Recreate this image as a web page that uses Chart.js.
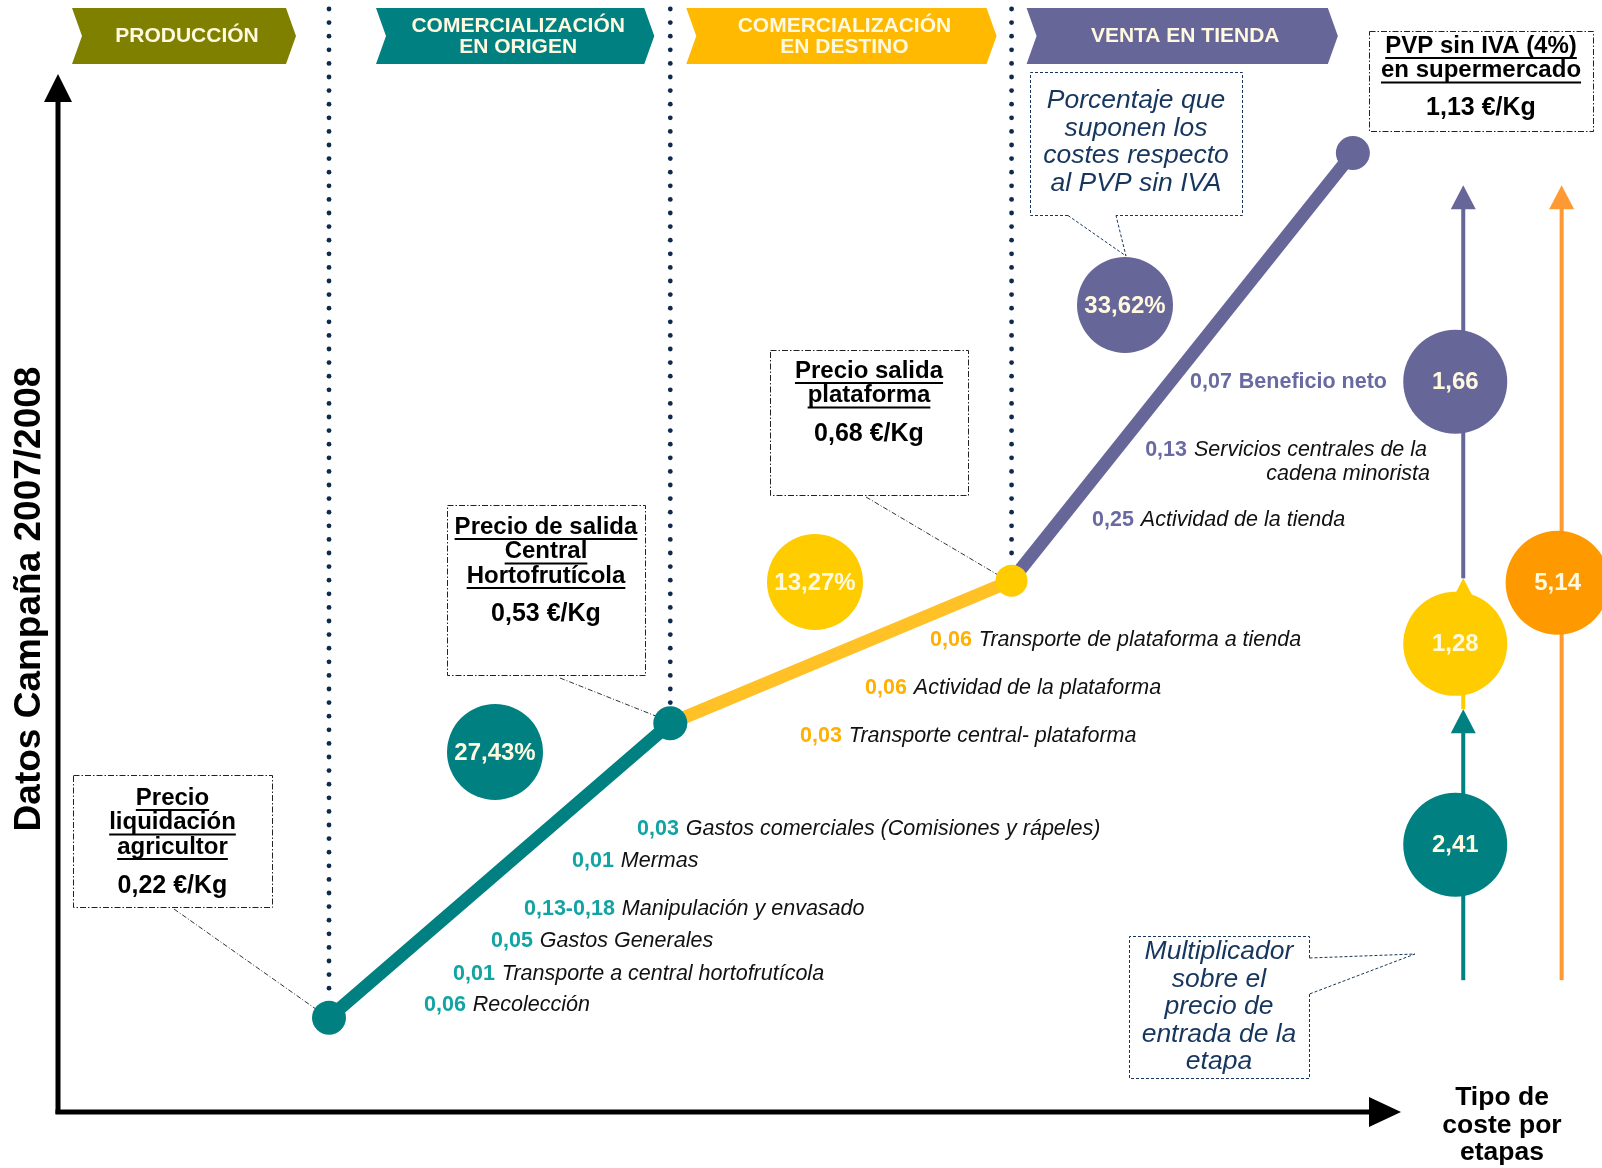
<!DOCTYPE html>
<html lang="es">
<head>
<meta charset="utf-8">
<title>Formación del precio — Campaña 2007/2008</title>
<script src="https://cdn.jsdelivr.net/npm/chart.js@4.4.1/dist/chart.umd.min.js"></script>
<style>
  html, body { margin: 0; padding: 0; background: #fff; }
</style>
</head>
<body>
<canvas id="chart" width="1602" height="1168"></canvas>
<script>
// Etapas de la cadena y precio al final de cada etapa (€/Kg).
const STAGES = ['PRODUCCIÓN', 'COMERCIALIZACIÓN\nEN ORIGEN', 'COMERCIALIZACIÓN\nEN DESTINO', 'VENTA EN TIENDA'];
const STAGE_END = [1, 2, 3, 4];
const PRICES = [0.22, 0.53, 0.68, 1.13];
const PRICE_TITLES = [
  ['Precio', 'liquidación', 'agricultor'],
  ['Precio de salida', 'Central', 'Hortofrutícola'],
  ['Precio salida', 'plataforma'],
  ['PVP sin IVA (4%)', 'en supermercado'],
];

// Peso de cada etapa sobre el PVP sin IVA (%) y multiplicador de la etapa.
const SHARE_PCT = [27.43, 13.27, 33.62];
const MULTIPLIERS = [2.41, 1.28, 1.66];
const TOTAL_MULTIPLIER = 5.14;

// Costes por etapa (€/Kg).
const COST_ORIGEN = [0.06, 0.01, 0.05, [0.13, 0.18], 0.01, 0.03];
const COST_ORIGEN_LABELS = ['Recolección', 'Transporte a central hortofrutícola', 'Gastos Generales',
  'Manipulación y envasado', 'Mermas', 'Gastos comerciales (Comisiones y rápeles)'];
const COST_DESTINO = [0.03, 0.06, 0.06];
const COST_DESTINO_LABELS = ['Transporte central- plataforma', 'Actividad de la plataforma',
  'Transporte de plataforma a tienda'];
const COST_TIENDA = [0.25, 0.13, 0.07];
const COST_TIENDA_LABELS = ['Actividad de la tienda', 'Servicios centrales de la\ncadena minorista', 'Beneficio neto'];

const FONT = '"Liberation Sans", Arial, Helvetica, sans-serif';
const TEAL = '#008080';
const OLIVE = '#808000';
const AMBER = '#FFB900';
const YELLOW = '#FFCC00';
const YELLOW_LINE = '#FFC125';
const PURPLE = '#666699';
const ORANGE = '#FF9900';
const ORANGE_LINE = '#FF9933';
const NAVY = '#0E2A4C';
const NAVY_TEXT = '#17365D';
const CREAM = '#FFF9E0';
const STAGE_COLORS = [OLIVE, TEAL, AMBER, PURPLE];
const VALUE_COLORS = { origen: '#12A3A3', destino: '#FFB000', tienda: '#6A6AA2' };
const COST_FONT = 21.5;

// Columna de multiplicadores a la derecha (en unidades del eje x).
const COL_X = 4.3;
const TOTAL_X = 4.6;

const AXIS_X = 58;
const AXIS_Y = 1112;

function num(v) {
  if (Array.isArray(v)) return num(v[0]) + '-' + num(v[1]);
  return v.toFixed(2).replace('.', ',');
}
const mid = (a, b) => (a + b) / 2;

function chevron(ctx, l, r, t, b, color) {
  const d = 10, m = (t + b) / 2;
  ctx.beginPath();
  ctx.moveTo(l, t); ctx.lineTo(r - d, t); ctx.lineTo(r, m);
  ctx.lineTo(r - d, b); ctx.lineTo(l, b); ctx.lineTo(l + d, m);
  ctx.closePath();
  ctx.fillStyle = color;
  ctx.fill();
}

function arrowUp(ctx, x, tip, color) {
  ctx.beginPath();
  ctx.moveTo(x, tip); ctx.lineTo(x + 12.5, tip + 24); ctx.lineTo(x - 12.5, tip + 24);
  ctx.closePath();
  ctx.fillStyle = color;
  ctx.fill();
}

function dotLine(ctx, x, y0, y1) {
  ctx.fillStyle = NAVY;
  for (let y = y0; y <= y1; y += 13.6) {
    ctx.beginPath(); ctx.arc(x, y, 2.4, 0, Math.PI * 2); ctx.fill();
  }
}

function priceBox(ctx, box, lines, value) {
  ctx.save();
  ctx.strokeStyle = '#222';
  ctx.lineWidth = 1;
  ctx.setLineDash([6, 2, 1.5, 2]);
  ctx.strokeRect(box.l + 0.5, box.t + 0.5, box.r - box.l, box.b - box.t);
  ctx.restore();
  const cx = (box.l + box.r) / 2;
  ctx.fillStyle = '#000';
  ctx.textAlign = 'center';
  ctx.textBaseline = 'middle';
  ctx.font = `bold 24px ${FONT}`;
  lines.forEach((s, i) => {
    const y = box.y0 + i * 24.5;
    ctx.fillText(s, cx, y);
    const w = ctx.measureText(s).width;
    ctx.fillRect(cx - w / 2, y + 11, w, 2);
  });
  ctx.font = `bold 25px ${FONT}`;
  ctx.fillText(value, cx, box.vy);
}

function leader(ctx, x0, y0, x1, y1) {
  ctx.save();
  ctx.strokeStyle = '#333';
  ctx.lineWidth = 1;
  ctx.setLineDash([5, 2, 1, 2]);
  ctx.beginPath(); ctx.moveTo(x0, y0); ctx.lineTo(x1, y1); ctx.stroke();
  ctx.restore();
}

function bubble(ctx, x, y, r, color, text) {
  ctx.beginPath(); ctx.arc(x, y, r, 0, Math.PI * 2);
  ctx.fillStyle = color; ctx.fill();
  ctx.fillStyle = CREAM;
  ctx.font = `bold 24px ${FONT}`;
  ctx.textAlign = 'center';
  ctx.textBaseline = 'middle';
  ctx.fillText(text, x, y + 1);
}

function costRow(ctx, x, y, value, label, color, boldLabel) {
  ctx.textAlign = 'left';
  ctx.textBaseline = 'middle';
  ctx.font = `bold ${COST_FONT}px ${FONT}`;
  ctx.fillStyle = color;
  ctx.fillText(value, x, y);
  const w = ctx.measureText(value).width;
  ctx.font = boldLabel ? `bold ${COST_FONT}px ${FONT}` : `italic ${COST_FONT}px ${FONT}`;
  ctx.fillStyle = boldLabel ? color : '#111';
  ctx.fillText(label, x + w + 7, y);
}

function calloutText(ctx, lines, cx, y0, step) {
  ctx.fillStyle = NAVY_TEXT;
  ctx.font = `italic 26.5px ${FONT}`;
  ctx.textAlign = 'center';
  ctx.textBaseline = 'middle';
  lines.forEach((s, i) => ctx.fillText(s, cx, y0 + i * step));
}

const infographic = {
  id: 'infographic',
  beforeDatasetsDraw(chart) {
    const ctx = chart.ctx;
    const xs = chart.scales.x, ys = chart.scales.y, yc = chart.scales.yc;
    const px = (i) => xs.getPixelForValue(STAGE_END[i]);
    const py = (i) => ys.getPixelForValue(PRICES[i]);

    ctx.save();
    ctx.fillStyle = '#fff';
    ctx.fillRect(0, 0, chart.width, chart.height);

    // Ejes con flecha
    ctx.fillStyle = '#000';
    ctx.fillRect(AXIS_X - 2.5, 96, 5, AXIS_Y - 96 + 2);
    ctx.fillRect(AXIS_X - 2.5, AXIS_Y - 2.5, 1372 - AXIS_X, 5);
    ctx.beginPath(); ctx.moveTo(AXIS_X, 74); ctx.lineTo(AXIS_X + 14, 102); ctx.lineTo(AXIS_X - 14, 102); ctx.closePath(); ctx.fill();
    ctx.beginPath(); ctx.moveTo(1401, AXIS_Y); ctx.lineTo(1369, AXIS_Y - 15); ctx.lineTo(1369, AXIS_Y + 15); ctx.closePath(); ctx.fill();

    ctx.save();
    ctx.translate(30, 599);
    ctx.rotate(-Math.PI / 2);
    ctx.font = `bold 37px ${FONT}`;
    ctx.textAlign = 'center';
    ctx.textBaseline = 'middle';
    ctx.fillText('Datos Campaña 2007/2008', 0, 0);
    ctx.restore();

    ctx.font = `bold 26.5px ${FONT}`;
    ctx.textAlign = 'center';
    ctx.textBaseline = 'middle';
    ['Tipo de', 'coste por', 'etapas'].forEach((s, i) => ctx.fillText(s, 1502, 1098 + i * 27.5));

    // Separadores de etapa
    for (let i = 0; i < 3; i++) dotLine(ctx, px(i), 9, py(i) - 20);

    // Cabeceras de etapa
    const edges = [AXIS_X, px(0), px(1), px(2), px(3)];
    const margins = [[14, 33], [47, 16], [16, 15], [15, 15]];
    STAGES.forEach((name, i) => {
      const l = edges[i] + margins[i][0], r = edges[i + 1] - margins[i][1];
      chevron(ctx, l, r, 8, 64, STAGE_COLORS[i]);
      ctx.fillStyle = CREAM;
      ctx.font = `bold 21px ${FONT}`;
      ctx.textAlign = 'center';
      ctx.textBaseline = 'middle';
      const lines = name.split('\n');
      const cx = (l + r) / 2 + 3;
      if (lines.length === 1) ctx.fillText(lines[0], cx, 36);
      else lines.forEach((s, k) => ctx.fillText(s, cx, 26 + k * 21));
    });

    // Cajas de precio
    const euro = (v) => num(v) + ' €/Kg';
    priceBox(ctx, { l: 73, t: 775, r: 272, b: 907, y0: 798, vy: 886 }, PRICE_TITLES[0], euro(PRICES[0]));
    leader(ctx, 174, 909, px(0) - 12, py(0) - 8);
    priceBox(ctx, { l: 447, t: 505, r: 645, b: 675, y0: 527, vy: 614 }, PRICE_TITLES[1], euro(PRICES[1]));
    leader(ctx, 560, 678, px(1) - 14, py(1) - 7);
    priceBox(ctx, { l: 770, t: 350, r: 968, b: 495, y0: 371, vy: 434 }, PRICE_TITLES[2], euro(PRICES[2]));
    leader(ctx, 866, 497, px(2) - 14, py(2) - 6);
    priceBox(ctx, { l: 1369, t: 31, r: 1593, b: 131, y0: 46, vy: 108 }, PRICE_TITLES[3], euro(PRICES[3]));

    // Cuadros explicativos (texto azul en cursiva)
    ctx.save();
    ctx.strokeStyle = NAVY_TEXT;
    ctx.lineWidth = 1;
    ctx.setLineDash([3, 2]);
    ctx.beginPath();
    ctx.moveTo(1068, 215.5); ctx.lineTo(1030.5, 215.5); ctx.lineTo(1030.5, 72.5);
    ctx.lineTo(1242.5, 72.5); ctx.lineTo(1242.5, 215.5); ctx.lineTo(1116, 215.5);
    ctx.moveTo(1068, 215.5); ctx.lineTo(1126, 256); ctx.lineTo(1116, 215.5);
    ctx.moveTo(1309.5, 958); ctx.lineTo(1309.5, 936.5); ctx.lineTo(1129.5, 936.5);
    ctx.lineTo(1129.5, 1078.5); ctx.lineTo(1309.5, 1078.5); ctx.lineTo(1309.5, 994);
    ctx.moveTo(1309.5, 958); ctx.lineTo(1415, 954); ctx.lineTo(1309.5, 994);
    ctx.stroke();
    ctx.restore();
    calloutText(ctx, ['Porcentaje que', 'suponen los', 'costes respecto', 'al PVP sin IVA'], 1136, 101, 27.5);
    calloutText(ctx, ['Multiplicador', 'sobre el', 'precio de', 'entrada de la', 'etapa'], 1219, 952, 27.5);

    // Peso de cada etapa sobre el PVP
    const pct = (v) => num(v) + '%';
    bubble(ctx, 495, 752, 48, TEAL, pct(SHARE_PCT[0]));
    bubble(ctx, 815, 582, 48, YELLOW, pct(SHARE_PCT[1]));
    bubble(ctx, 1125, 305, 48, PURPLE, pct(SHARE_PCT[2]));

    // Columna de multiplicadores: un tramo por etapa y el total, con flecha
    const cxm = xs.getPixelForValue(COL_X) + 8;
    const cxt = xs.getPixelForValue(TOTAL_X) + 4;
    const segColors = [TEAL, YELLOW, PURPLE];
    for (let i = 0; i < 3; i++) {
      const yb = yc.getPixelForValue(PRICES[i]);
      const yt = yc.getPixelForValue(PRICES[i + 1]);
      ctx.fillStyle = segColors[i];
      ctx.fillRect(cxm - 2, yt + 20, 4, yb - yt - 20);
      arrowUp(ctx, cxm, yt, segColors[i]);
    }
    ctx.fillStyle = ORANGE_LINE;
    const ytTot = yc.getPixelForValue(PRICES[3]);
    ctx.fillRect(cxt - 2, ytTot + 20, 4, yc.getPixelForValue(PRICES[0]) - ytTot - 20);
    arrowUp(ctx, cxt, ytTot, ORANGE_LINE);
    ctx.restore();
  },
  afterDatasetsDraw(chart) {
    const ctx = chart.ctx;
    ctx.save();

    // Cifras dentro de los círculos de multiplicador
    ctx.fillStyle = CREAM;
    ctx.font = `bold 24px ${FONT}`;
    ctx.textAlign = 'center';
    ctx.textBaseline = 'middle';
    const meta = chart.getDatasetMeta(4);
    const labels = MULTIPLIERS.concat([TOTAL_MULTIPLIER]);
    meta.data.forEach((pt, i) => ctx.fillText(num(labels[i]), pt.x, pt.y + 1));

    // Costes por etapa
    const posOrigen = [[424, 1005], [453, 974], [491, 941], [524, 909], [572, 861], [637, 829]];
    COST_ORIGEN.forEach((v, i) =>
      costRow(ctx, posOrigen[i][0], posOrigen[i][1], num(v), COST_ORIGEN_LABELS[i], VALUE_COLORS.origen));
    const posDestino = [[800, 736], [865, 688], [930, 640]];
    COST_DESTINO.forEach((v, i) =>
      costRow(ctx, posDestino[i][0], posDestino[i][1], num(v), COST_DESTINO_LABELS[i], VALUE_COLORS.destino));

    costRow(ctx, 1092, 520, num(COST_TIENDA[0]), COST_TIENDA_LABELS[0], VALUE_COLORS.tienda);
    // Servicios centrales: alineado a la derecha, dos líneas
    const [l1, l2] = COST_TIENDA_LABELS[1].split('\n');
    const right = 1430;
    ctx.font = `italic ${COST_FONT}px ${FONT}`;
    const wl1 = ctx.measureText(l1).width;
    ctx.font = `bold ${COST_FONT}px ${FONT}`;
    const wv = ctx.measureText(num(COST_TIENDA[1])).width;
    costRow(ctx, right - wl1 - wv - 10, 450, num(COST_TIENDA[1]), l1, VALUE_COLORS.tienda);
    ctx.font = `italic ${COST_FONT}px ${FONT}`;
    ctx.fillStyle = '#111';
    ctx.textAlign = 'right';
    ctx.fillText(l2, right, 474);
    costRow(ctx, 1190, 382, num(COST_TIENDA[2]), COST_TIENDA_LABELS[2], VALUE_COLORS.tienda, true);

    ctx.restore();
  },
};

const pricePoints = PRICES.map((p, i) => ({ x: STAGE_END[i], y: p }));
const segment = (i) => [pricePoints[i], pricePoints[i + 1]];

new Chart(document.getElementById('chart'), {
  type: 'scatter',
  data: {
    datasets: [
      { data: segment(0), showLine: true, borderColor: TEAL, borderWidth: 13, pointRadius: 0, order: 2 },
      { data: segment(1), showLine: true, borderColor: YELLOW_LINE, borderWidth: 13, pointRadius: 0, order: 2 },
      { data: segment(2), showLine: true, borderColor: PURPLE, borderWidth: 13, pointRadius: 0, order: 2 },
      {
        data: pricePoints,
        pointRadius: [17, 17, 16, 17],
        pointBackgroundColor: [TEAL, TEAL, YELLOW, PURPLE],
        pointBorderWidth: 0,
        order: 1,
      },
      {
        yAxisID: 'yc',
        clip: false,
        data: [
          { x: COL_X, y: mid(PRICES[0], PRICES[1]) },
          { x: COL_X, y: mid(PRICES[1], PRICES[2]) },
          { x: COL_X, y: mid(PRICES[2], PRICES[3]) },
          { x: TOTAL_X, y: mid(PRICES[0], PRICES[3]) },
        ],
        pointRadius: 52,
        pointBackgroundColor: [TEAL, YELLOW, PURPLE, ORANGE],
        pointBorderWidth: 0,
        order: 1,
      },
    ],
  },
  options: {
    responsive: false,
    animation: false,
    events: [],
    layout: { padding: 0, autoPadding: false },
    plugins: { legend: { display: false }, tooltip: { enabled: false } },
    scales: {
      x: { type: 'linear', display: false, min: 0.036, max: 4.73 },
      y: { type: 'linear', display: false, min: 0.062, max: 1.291 },
      yc: { type: 'linear', display: false, min: 0.005, max: 1.342 },
    },
  },
  plugins: [infographic],
});
</script>
</body>
</html>
